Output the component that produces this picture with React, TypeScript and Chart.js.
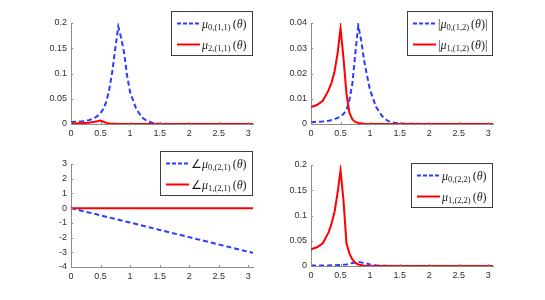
import React, { useEffect, useRef } from "react";
import { Chart, registerables } from "chart.js";

Chart.register(...registerables);

// ---------- data ----------
const xTicks = [0, 0.5, 1, 1.5, 2, 2.5, 3];
const xMax = 3.08;

// panel (1,1)
const x11Blue = [0, 0.1, 0.2, 0.3, 0.4, 0.45, 0.5, 0.55, 0.6, 0.65, 0.7, 0.75, 0.8, 0.85, 0.9, 0.95, 1.0, 1.05, 1.1, 1.2, 1.3, 1.4, 1.5, 1.7, 2.0, 2.5, 3.08];
const y11Blue = [0.004, 0.0045, 0.0055, 0.0075, 0.012, 0.016, 0.022, 0.03, 0.045, 0.07, 0.105, 0.15, 0.193, 0.17, 0.14, 0.095, 0.063, 0.047, 0.031, 0.013, 0.005, 0.0015, 0.0005, 0.0001, 0, 0, 0];
const x11Red = [0, 0.1, 0.2, 0.3, 0.4, 0.45, 0.5, 0.55, 0.6, 0.65, 0.7, 0.8, 1.0, 1.3, 3.08];
const y11Red = [0.0012, 0.0013, 0.0018, 0.0027, 0.0043, 0.0056, 0.007, 0.0045, 0.0022, 0.0012, 0.0007, 0.0003, 0.0001, 0, 0];
const y11Ticks = [0, 0.05, 0.1, 0.15, 0.2];

// panel (1,2)
const x12Blue = [0, 0.1, 0.2, 0.3, 0.4, 0.5, 0.55, 0.6, 0.65, 0.7, 0.75, 0.8, 0.85, 0.9, 0.95, 1.0, 1.1, 1.2, 1.3, 1.4, 1.5, 1.7, 2.0, 3.08];
const y12Blue = [0.0007, 0.0008, 0.001, 0.0013, 0.0019, 0.0029, 0.004, 0.0055, 0.0095, 0.016, 0.028, 0.039, 0.033, 0.025, 0.019, 0.0134, 0.0068, 0.0032, 0.0012, 0.0005, 0.0002, 0.0001, 0, 0];
const x12Red = [0, 0.1, 0.2, 0.3, 0.35, 0.4, 0.45, 0.5, 0.55, 0.6, 0.65, 0.7, 0.75, 0.8, 0.9, 1.0, 3.08];
const y12Red = [0.0067, 0.0075, 0.0092, 0.0135, 0.0165, 0.021, 0.028, 0.038, 0.026, 0.012, 0.0045, 0.0018, 0.0008, 0.0004, 0.0001, 0, 0];
const y12Ticks = [0, 0.01, 0.02, 0.03, 0.04];

// panel (2,1)
const x21Blue = [0, 0.5, 1, 1.5, 2, 2.5, 3.08];
const y21Blue = [0, -0.49, -0.98, -1.48, -1.97, -2.47, -3.04];
const x21Red = [0, 1, 2, 3.08];
const y21Red = [0, 0, 0, 0];
const y21Ticks = [-4, -3, -2, -1, 0, 1, 2, 3];

// panel (2,2)
const x22Blue = [0, 0.3, 0.5, 0.6, 0.7, 0.8, 0.9, 1.0, 1.1, 1.2, 1.4, 1.6, 3.08];
const y22Blue = [0.001, 0.0012, 0.002, 0.003, 0.006, 0.008, 0.006, 0.003, 0.0015, 0.0007, 0.0002, 0, 0];
const x22Red = [0, 0.1, 0.2, 0.3, 0.35, 0.4, 0.45, 0.5, 0.55, 0.6, 0.65, 0.7, 0.75, 0.8, 0.9, 1.0, 3.08];
const y22Red = [0.033, 0.037, 0.045, 0.067, 0.085, 0.108, 0.145, 0.19, 0.13, 0.045, 0.025, 0.013, 0.006, 0.003, 0.0005, 0, 0];
const y22Ticks = [0, 0.05, 0.1, 0.15, 0.2];

// ---------- style ----------
const BLUE = "rgb(40,60,255)";
const RED = "rgb(255,0,0)";
const AXIS = "#8c8c8c";
const TICK_TEXT = "#2e2e2e";

type Seg = [string, "i" | "r" | "s"];
function mathLabel(pre: string, sub: string, post: string): Seg[] {
  const segs: Seg[] = [];
  if (pre) segs.push([pre, "r"]);
  segs.push(["\u03bc", "i"]);
  segs.push([sub, "s"]);
  segs.push(["(", "r"]);
  segs.push(["\u03b8", "i"]);
  segs.push([")", "r"]);
  if (post) segs.push([post, "r"]);
  return segs;
}

const MAIN = 12;
const SUB = 8.5;
function segFont(k: string) {
  if (k === "i") return `italic ${MAIN}px "Liberation Serif"`;
  if (k === "s") return `${SUB}px "Liberation Serif"`;
  return `${MAIN}px "Liberation Serif"`;
}
function measureLabel(ctx: CanvasRenderingContext2D, segs: Seg[]) {
  let w = 0;
  segs.forEach(([t, k]) => {
    ctx.font = segFont(k);
    w += ctx.measureText(t).width;
    if (k === "s") w += 2;
  });
  return w;
}
function drawLabel(ctx: CanvasRenderingContext2D, segs: Seg[], x: number, cy: number) {
  let px = x;
  ctx.fillStyle = "#1a1a1a";
  ctx.textBaseline = "alphabetic";
  ctx.textAlign = "left";
  for (const [t, k] of segs) {
    ctx.font = segFont(k);
    ctx.fillText(t, px, k === "s" ? cy + 6.5 : cy + 4);
    px += ctx.measureText(t).width;
    if (k === "s") px += 2;
  }
}

const innerTicks = {
  id: "innerTicks",
  afterDraw(chart: any) {
    const { ctx, chartArea: a, scales } = chart;
    const x = scales.x, y = scales.y;
    ctx.save();
    ctx.strokeStyle = AXIS;
    ctx.lineWidth = 1;
    ctx.beginPath();
    for (const t of x.ticks) {
      const px = Math.round(x.getPixelForValue(t.value)) + 0.5;
      ctx.moveTo(px, a.bottom);
      ctx.lineTo(px, a.bottom - 2);
    }
    for (const t of y.ticks) {
      const py = Math.round(y.getPixelForValue(t.value)) + 0.5;
      ctx.moveTo(a.left, py);
      ctx.lineTo(a.left + 2, py);
    }
    ctx.stroke();
    ctx.restore();
  },
};

const mathLegend = {
  id: "mathLegend",
  afterDraw(chart: any, _args: any, opts: any) {
    const { ctx, chartArea: a } = chart;
    const items = opts.items as { label: Seg[]; color: string; dash: number[] }[];
    ctx.save();
    const textW = Math.max(...items.map((it) => measureLabel(ctx, it.label)));
    const boxW = Math.round(31 + textW + 6);
    const boxH = 45;
    const right = Math.round(a.right);
    const left = right - boxW;
    const top = Math.round(a.top + opts.dy);
    ctx.fillStyle = "#fff";
    ctx.fillRect(left, top, boxW, boxH);
    ctx.strokeStyle = "#404040";
    ctx.lineWidth = 1;
    ctx.strokeRect(left + 0.5, top + 0.5, boxW - 1, boxH - 1);
    items.forEach((it, i) => {
      const cy = top + 12.5 + i * 21;
      ctx.strokeStyle = it.color;
      ctx.lineWidth = 2;
      ctx.setLineDash(it.dash);
      ctx.beginPath();
      ctx.moveTo(left + 6, cy);
      ctx.lineTo(left + 29, cy);
      ctx.stroke();
      ctx.setLineDash([]);
      drawLabel(ctx, it.label, left + 31, cy);
    });
    ctx.restore();
  },
};

type PanelProps = {
  box: { x: number; y: number; w: number; h: number };
  plot: { l: number; t: number; r: number; b: number };
  blue: { xs: number[]; ys: number[] };
  red: { xs: number[]; ys: number[] };
  yTicks: number[];
  legend: { blue: Seg[]; red: Seg[]; dy: number };
};

function Panel({ box, plot, blue, red, yTicks, legend }: PanelProps) {
  const ref = useRef<HTMLCanvasElement>(null);
  useEffect(() => {
    const pts = (xs: number[], ys: number[]) => xs.map((x, i) => ({ x, y: ys[i] }));
    const tickFont = { family: '"Liberation Sans", Arial, sans-serif', size: 9 };
    const chart = new Chart(ref.current!, {
      type: "line",
      data: {
        datasets: [
          {
            data: pts(blue.xs, blue.ys),
            borderColor: BLUE,
            borderWidth: 2,
            borderDash: [5, 3],
            pointRadius: 0,
            tension: 0,
            order: 2,
          },
          {
            data: pts(red.xs, red.ys),
            borderColor: RED,
            borderWidth: 2,
            pointRadius: 0,
            tension: 0,
            order: 1,
          },
        ],
      },
      options: {
        animation: false,
        responsive: false,
        devicePixelRatio: 1,
        layout: {
          padding: { left: 0, top: plot.t - box.y, right: box.x + box.w - plot.r, bottom: 0 },
        },
        plugins: {
          legend: { display: false },
          tooltip: { enabled: false },
          mathLegend: {
            dy: legend.dy,
            items: [
              { label: legend.blue, color: BLUE, dash: [4, 2] },
              { label: legend.red, color: RED, dash: [] },
            ],
          },
        } as any,
        scales: {
          x: {
            type: "linear",
            min: 0,
            max: xMax,
            grid: { display: false, drawTicks: false, tickLength: 0 },
            border: { display: true, color: AXIS, width: 1 },
            afterBuildTicks: (s: any) => {
              s.ticks = xTicks.map((v) => ({ value: v }));
            },
            afterFit: (s: any) => {
              s.height = box.y + box.h - plot.b;
            },
            ticks: {
              autoSkip: false,
              maxRotation: 0,
              padding: 4,
              color: TICK_TEXT,
              font: tickFont,
              callback: (v: any) => String(v),
            },
          },
          y: {
            type: "linear",
            min: yTicks[0],
            max: yTicks[yTicks.length - 1],
            grid: { display: false, drawTicks: false, tickLength: 0 },
            border: { display: true, color: AXIS, width: 1 },
            afterBuildTicks: (s: any) => {
              s.ticks = yTicks.map((v) => ({ value: v }));
            },
            afterFit: (s: any) => {
              s.width = plot.l - box.x;
            },
            ticks: {
              autoSkip: false,
              padding: 4,
              color: TICK_TEXT,
              font: tickFont,
              callback: (v: any) => String(v),
            },
          },
        },
      },
      plugins: [innerTicks, mathLegend],
    });
    return () => chart.destroy();
  }, []);
  return (
    <canvas
      ref={ref}
      width={box.w}
      height={box.h}
      style={{ position: "absolute", left: box.x, top: box.y, width: box.w, height: box.h }}
    />
  );
}

export default function App() {
  return (
    <div style={{ position: "fixed", left: 0, top: 0, width: 545, height: 300, background: "#fff", overflow: "hidden" }}>
      <Panel
        box={{ x: 0, y: 0, w: 272, h: 145 }}
        plot={{ l: 71, t: 23, r: 253, b: 124 }}
        blue={{ xs: x11Blue, ys: y11Blue }}
        red={{ xs: x11Red, ys: y11Red }}
        yTicks={y11Ticks}
        legend={{ blue: mathLabel("", "0,(1,1)", ""), red: mathLabel("", "2,(1,1)", ""), dy: -12 }}
      />
      <Panel
        box={{ x: 272, y: 0, w: 273, h: 145 }}
        plot={{ l: 311, t: 23, r: 493, b: 124 }}
        blue={{ xs: x12Blue, ys: y12Blue }}
        red={{ xs: x12Red, ys: y12Red }}
        yTicks={y12Ticks}
        legend={{ blue: mathLabel("|", "0,(1,2)", "|"), red: mathLabel("|", "1,(1,2)", "|"), dy: -12 }}
      />
      <Panel
        box={{ x: 0, y: 145, w: 272, h: 155 }}
        plot={{ l: 71, t: 164, r: 253, b: 267 }}
        blue={{ xs: x21Blue, ys: y21Blue }}
        red={{ xs: x21Red, ys: y21Red }}
        yTicks={y21Ticks}
        legend={{ blue: mathLabel("\u2220", "0,(2,1)", ""), red: mathLabel("\u2220", "1,(2,1)", ""), dy: -13 }}
      />
      <Panel
        box={{ x: 272, y: 145, w: 273, h: 155 }}
        plot={{ l: 311, t: 165, r: 493, b: 266 }}
        blue={{ xs: x22Blue, ys: y22Blue }}
        red={{ xs: x22Red, ys: y22Red }}
        yTicks={y22Ticks}
        legend={{ blue: mathLabel("", "0,(2,2)", ""), red: mathLabel("", "1,(2,2)", ""), dy: -2 }}
      />
    </div>
  );
}
